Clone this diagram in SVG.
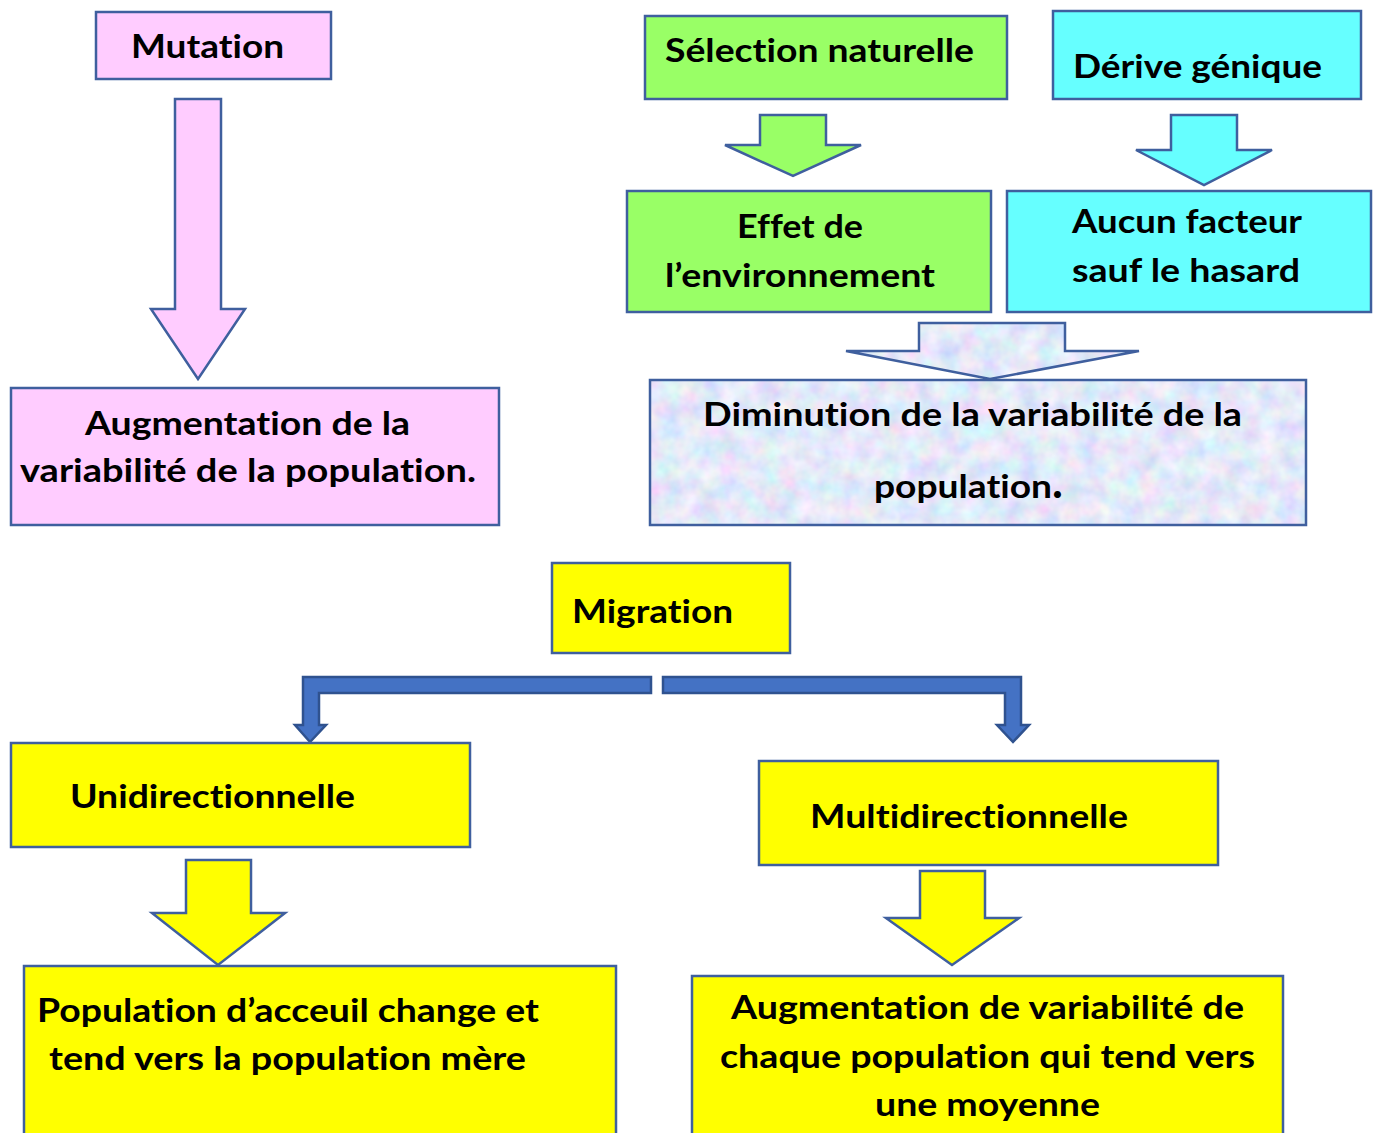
<svg xmlns="http://www.w3.org/2000/svg" width="1378" height="1133" viewBox="0 0 1378 1133">
<style>
  .b{stroke:#3f5f9e;stroke-width:2.5}
  .pink{fill:#ffccff}
  .green{fill:#99ff66}
  .cyan{fill:#66ffff}
  .yel{fill:#ffff00}
  .con{fill:#4472c4;stroke:#2f528f;stroke-width:2.5}
  text{font-family:Lato,"Open Sans","Liberation Sans",sans-serif;font-weight:bold;font-size:32px;fill:#000;font-variant-ligatures:none}
</style>
<defs>
  <filter id="tex" x="0" y="0" width="100%" height="100%">
    <feTurbulence type="fractalNoise" baseFrequency="0.05" numOctaves="3" seed="5" result="n"/>
    <feColorMatrix in="n" type="matrix" values="0.55 0 0 0 0.5  0 0.45 0 0 0.59  0 0 0.25 0 0.82  0 0 0 0 1" result="c"/>
    <feComposite in="c" in2="SourceGraphic" operator="in"/>
  </filter>
</defs>
<rect width="1378" height="1133" fill="#fff"/>

<g id="connectors">
  <polygon class="pink b" points="175,99 221,99 221,309 245,309 198,379 151,309 175,309"/>
  <polygon class="green b" points="760,115 826,115 826,145 861,145 793,176 725,145 760,145"/>
  <polygon class="cyan b" points="1171,115 1237,115 1237,150 1272,150 1204,185 1136,150 1171,150"/>
  <g id="merge-arrow">
    <polygon fill="#c9d5f0" filter="url(#tex)" points="919,323 1065,323 1065,351 1139,351 990,379 846,351 919,351"/>
    <polygon fill="none" class="b" points="919,323 1065,323 1065,351 1139,351 990,379 846,351 919,351"/>
  </g>
  <polygon class="con" points="651,677 303,677 303,725 295,725 310,742 326,725 319,725 319,693 651,693"/>
  <polygon class="con" points="663,677 1021,677 1021,725 1029,725 1013,742 997,725 1005,725 1005,693 663,693"/>
  <polygon class="yel b" points="186,860 251,860 251,913 285,913 218,965 152,913 186,913"/>
  <polygon class="yel b" points="920,871 985,871 985,918 1019,918 952,965 886,918 920,918"/>
</g>

<g id="mutation">
  <rect class="pink b" x="96" y="12" width="235" height="67"/>
  <text x="131" y="58" textLength="153" lengthAdjust="spacingAndGlyphs">Mutation</text>
</g>
<g id="augmentation">
  <rect class="pink b" x="11" y="388" width="488" height="137"/>
  <text x="85" y="435" textLength="325" lengthAdjust="spacingAndGlyphs">Augmentation de la</text>
  <text x="20" y="482" textLength="456" lengthAdjust="spacingAndGlyphs">variabilité de la population.</text>
</g>
<g id="selection">
  <rect class="green b" x="645" y="16" width="362" height="83"/>
  <text x="665" y="62" textLength="309" lengthAdjust="spacingAndGlyphs">Sélection naturelle</text>
</g>
<g id="derive">
  <rect class="cyan b" x="1053" y="11" width="308" height="88"/>
  <text x="1073" y="78" textLength="249" lengthAdjust="spacingAndGlyphs">Dérive génique</text>
</g>
<g id="effet">
  <rect class="green b" x="627" y="191" width="364" height="121"/>
  <text x="737" y="238" textLength="126" lengthAdjust="spacingAndGlyphs">Effet de</text>
  <text x="665" y="287" textLength="270" lengthAdjust="spacingAndGlyphs">l’environnement</text>
</g>
<g id="aucun">
  <rect class="cyan b" x="1007" y="191" width="364" height="121"/>
  <text x="1072" y="233" textLength="230" lengthAdjust="spacingAndGlyphs">Aucun facteur</text>
  <text x="1072" y="282" textLength="228" lengthAdjust="spacingAndGlyphs">sauf le hasard</text>
</g>
<g id="diminution">
  <rect x="650" y="380" width="656" height="145" fill="#c9d5f0" filter="url(#tex)"/>
  <rect x="650" y="380" width="656" height="145" fill="none" class="b"/>
  <text x="703" y="426" textLength="539" lengthAdjust="spacingAndGlyphs">Diminution de la variabilité de la</text>
  <text x="874" y="498"><tspan textLength="178" lengthAdjust="spacingAndGlyphs">population</tspan><tspan font-size="46">.</tspan></text>
</g>
<g id="migration">
  <rect class="yel b" x="552" y="563" width="238" height="90"/>
  <text x="572" y="623" textLength="161" lengthAdjust="spacingAndGlyphs">Migration</text>
</g>
<g id="unidirectionnelle">
  <rect class="yel b" x="11" y="743" width="459" height="104"/>
  <text x="70" y="808" textLength="285" lengthAdjust="spacingAndGlyphs">Unidirectionnelle</text>
</g>
<g id="multidirectionnelle">
  <rect class="yel b" x="759" y="761" width="459" height="104"/>
  <text x="810" y="828" textLength="318" lengthAdjust="spacingAndGlyphs">Multidirectionnelle</text>
</g>
<g id="population-accueil">
  <rect class="yel b" x="24" y="966" width="592" height="180"/>
  <text x="37" y="1022" textLength="502" lengthAdjust="spacingAndGlyphs">Population d’acceuil change et</text>
  <text x="49" y="1070" textLength="477" lengthAdjust="spacingAndGlyphs">tend vers la population mère</text>
</g>
<g id="augmentation-moyenne">
  <rect class="yel b" x="692" y="976" width="591" height="170"/>
  <text x="731" y="1019" textLength="513" lengthAdjust="spacingAndGlyphs">Augmentation de variabilité de</text>
  <text x="720" y="1068" textLength="535" lengthAdjust="spacingAndGlyphs">chaque population qui tend vers</text>
  <text x="875" y="1116" textLength="225" lengthAdjust="spacingAndGlyphs">une moyenne</text>
</g>
</svg>
